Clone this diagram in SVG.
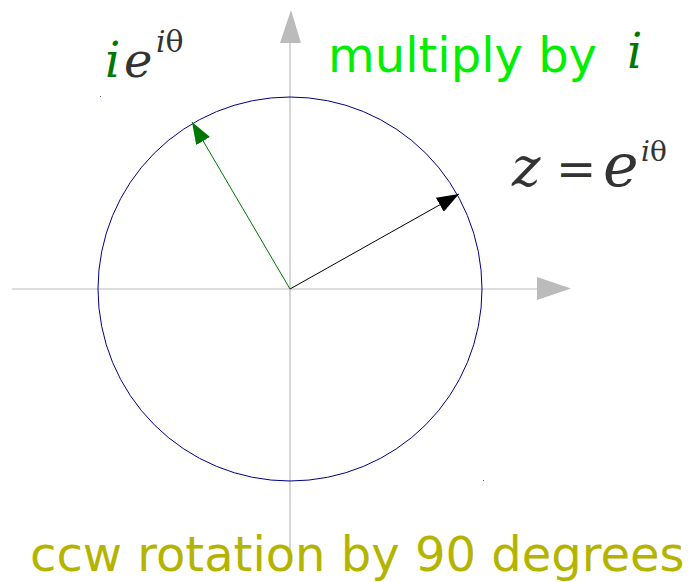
<svg xmlns="http://www.w3.org/2000/svg" width="690" height="582" viewBox="0 0 690 582">
<style>
.axis{stroke:#bbbbbb;stroke-width:1.2;fill:none}
.ahead{fill:#bbbbbb}
.math{font-family:"DejaVu Serif","Liberation Serif",serif;font-style:italic;fill:#333333}
.up{font-style:normal}
.sans{font-family:"DejaVu Sans","Liberation Sans",sans-serif}
.dg{fill:#007700}
</style>
<defs>
<marker id="mk" markerWidth="24" markerHeight="18" refX="22" refY="8" orient="auto" markerUnits="userSpaceOnUse"><path d="M0,0 L22,8 L0,16 z" fill="#000"/></marker>
<marker id="mg" markerWidth="24" markerHeight="18" refX="22" refY="8" orient="auto" markerUnits="userSpaceOnUse"><path d="M0,0 L22,8 L0,16 z" fill="#007700"/></marker>
</defs>
<rect width="690" height="582" fill="#fff"/>
<g id="axes">
<line class="axis" x1="12" y1="289" x2="538" y2="289"/>
<polygon class="ahead" points="537,277 571,288.5 537,300"/>
<line class="axis" x1="290" y1="43" x2="290" y2="552"/>
<polygon class="ahead" points="280,43 291,10 301,43"/>
</g>
<g id="unit-circle">
<circle cx="290" cy="289" r="192" fill="none" stroke="#000088" stroke-width="1"/>
<rect x="100" y="96" width="1" height="1" fill="#5555bb"/>
<rect x="483" y="480" width="1" height="1" fill="#5555bb"/>
</g>
<g id="connectors">
<line x1="290" y1="289" x2="459" y2="194" stroke="#000" stroke-width="1" marker-end="url(#mk)"/>
<line x1="290" y1="289" x2="192" y2="122" stroke="#007700" stroke-width="1" marker-end="url(#mg)"/>
</g>
<g id="label-ie">
<text class="math" x="105" y="77" font-size="48"><tspan class="dg">i</tspan><tspan x="124">e</tspan></text>
<text class="math" x="156" y="52" font-size="30">i<tspan class="up">θ</tspan></text>
</g>
<g id="label-z">
<text class="math" x="512" y="186" font-size="54">z<tspan class="up" x="556" font-size="48">=</tspan><tspan x="603" font-size="60">e</tspan></text>
<text class="math" x="641" y="161" font-size="28">i<tspan class="up">θ</tspan></text>
</g>
<g id="label-multiply">
<text class="sans" x="328" y="72" font-size="48" fill="#00ee00">multiply by</text>
<text class="math dg" x="627" y="68" font-size="48">i</text>
</g>
<g id="label-ccw">
<text class="sans" x="30" y="571" font-size="48" fill="#b4b400">ccw rotation by 90 degrees</text>
</g>
</svg>
